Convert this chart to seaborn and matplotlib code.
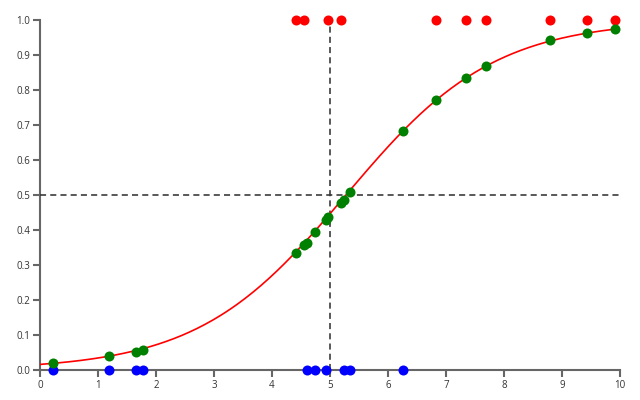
import numpy as np
import pandas as pd
import matplotlib
matplotlib.use("Agg")
import matplotlib.pyplot as plt
import seaborn as sns

# Observations (outcome 1 = red at top, outcome 0 = blue at bottom)
x_pos = [4.41, 4.55, 4.97, 5.19, 6.82, 7.34, 7.69, 8.80, 9.43, 9.91]
x_neg = [0.23, 1.19, 1.65, 1.77, 4.60, 4.74, 4.93, 5.24, 5.34, 6.26]

# Predicted probabilities (green points)
pred_x = [0.23, 1.19, 1.65, 1.77, 4.41, 4.55, 4.60, 4.74, 4.93, 4.97,
          5.19, 5.24, 5.34, 6.26, 6.82, 7.34, 7.69, 8.80, 9.43, 9.91]
pred_y = [0.019, 0.039, 0.052, 0.058, 0.333, 0.356, 0.364, 0.393, 0.429, 0.436,
          0.478, 0.487, 0.510, 0.683, 0.771, 0.835, 0.869, 0.942, 0.964, 0.974]

# Fitted logistic model parameters
intercept = -4.12
slope = 0.781

x_ticks = [0, 1, 2, 3, 4, 5, 6, 7, 8, 9, 10]
y_ticks = [0.0, 0.1, 0.2, 0.3, 0.4, 0.5, 0.6, 0.7, 0.8, 0.9, 1.0]
threshold_x = 5
threshold_y = 0.5

sns.set_style("white")
plt.rcParams['font.family'] = ['Open Sans', 'DejaVu Sans']

fig = plt.figure(figsize=(6.4, 4.0), dpi=100)
ax = fig.add_axes([40/640, 30/400, 580/640, 350/400])

curve_x = np.linspace(0, 10, 300)
curve_df = pd.DataFrame({"x": curve_x,
                         "p": 1.0 / (1.0 + np.exp(-(intercept + slope * curve_x)))})
sns.lineplot(data=curve_df, x="x", y="p", color="#ff0000", linewidth=1.2, ax=ax, zorder=3)

ax.plot([threshold_x, threshold_x], [0, 1], color="#333333", lw=1.15,
        dashes=(3.8, 2.6), zorder=2, clip_on=False)
ax.plot([0, 10], [threshold_y, threshold_y], color="#333333", lw=1.15,
        dashes=(3.8, 2.6), zorder=2, clip_on=False)

pos_df = pd.DataFrame({"x": x_pos, "y": [1.0] * len(x_pos)})
neg_df = pd.DataFrame({"x": x_neg, "y": [0.0] * len(x_neg)})
pred_df = pd.DataFrame({"x": pred_x, "y": pred_y})

for df, col in [(pos_df, "#ff0000"), (neg_df, "#0000ff"), (pred_df, "#008000")]:
    sns.scatterplot(data=df, x="x", y="y", color=col, s=52, linewidth=0,
                    ax=ax, zorder=5, clip_on=False)

ax.set_xlim(0, 10)
ax.set_ylim(0, 1)
ax.set_xticks(x_ticks)
ax.set_xticklabels([str(t) for t in x_ticks])
ax.set_yticks(y_ticks)
ax.set_yticklabels([f"{t:.1f}" for t in y_ticks])
ax.set_xlabel("")
ax.set_ylabel("")

for side in ["top", "right"]:
    ax.spines[side].set_visible(False)
for side in ["left", "bottom"]:
    ax.spines[side].set_color("#666666")
    ax.spines[side].set_linewidth(1.5)
    ax.spines[side].set_zorder(1)

ax.tick_params(axis="both", which="major", length=5, width=1.5, color="#666666",
               labelsize=7, labelcolor="#333333", pad=2, direction="out")
ax.tick_params(axis="x", bottom=True)
ax.tick_params(axis="y", left=True)
ax.grid(False)

fig.savefig("out.png", dpi=100)
